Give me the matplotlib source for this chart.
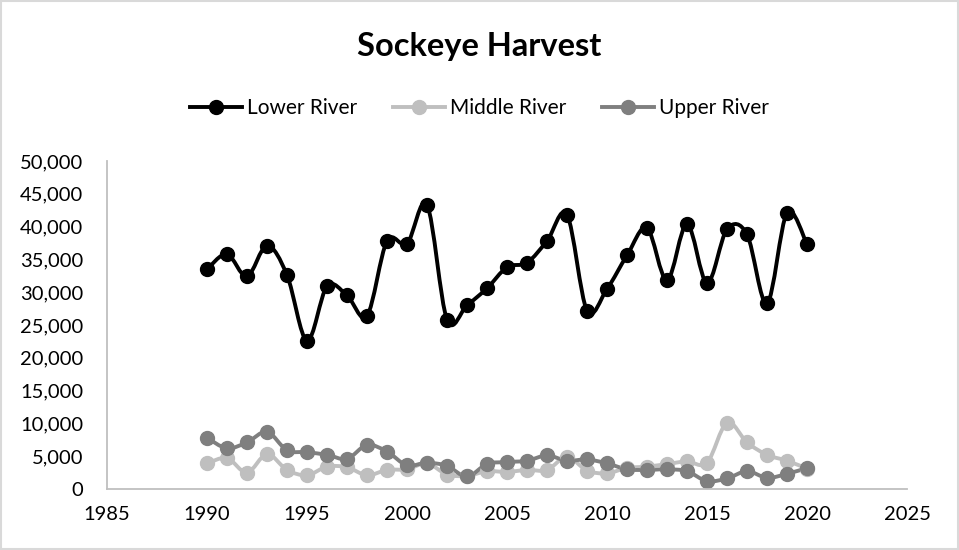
import matplotlib.pyplot as plt
from matplotlib.path import Path
from matplotlib.patches import PathPatch
from matplotlib.lines import Line2D
from matplotlib.ticker import FuncFormatter

plt.rcParams['font.family'] = ['Lato', 'DejaVu Sans']

years = list(range(1990, 2021))

lower_river = [33500, 35800, 32400, 37100, 32600, 22600, 30900, 29500, 26400, 37800,
               37400, 43300, 25800, 28000, 30600, 33800, 34500, 37800, 41800, 27200,
               30500, 35600, 39800, 31800, 40400, 31400, 39600, 38800, 28300, 42100,
               37300]
middle_river = [3900, 4700, 2500, 5300, 2900, 2100, 3400, 3300, 2100, 2900,
                3000, 3900, 2200, 2000, 2700, 2600, 2900, 2900, 4900, 2800,
                2400, 3200, 3400, 3800, 4200, 4000, 10100, 7100, 5200, 4300,
                3100]
upper_river = [7800, 6200, 7100, 8700, 5900, 5600, 5200, 4600, 6700, 5700,
               3600, 4000, 3500, 1900, 3800, 4100, 4300, 5100, 4300, 4500,
               3900, 3000, 2900, 3000, 2700, 1200, 1600, 2700, 1700, 2300,
               3200]

series = [
    ('Lower River', lower_river, '#000000'),
    ('Middle River', middle_river, '#bfbfbf'),
    ('Upper River', upper_river, '#7f7f7f'),
]


def smooth_path(xs, ys):
    """Excel-style smoothed line: cubic Bezier through each point."""
    pts = list(zip(xs, ys))
    n = len(pts)
    verts = [pts[0]]
    codes = [Path.MOVETO]
    for i in range(n - 1):
        p0 = pts[i - 1] if i > 0 else pts[i]
        p1 = pts[i]
        p2 = pts[i + 1]
        p3 = pts[i + 2] if i + 2 < n else pts[i + 1]
        c1 = (p1[0] + (p2[0] - p0[0]) / 6, p1[1] + (p2[1] - p0[1]) / 6)
        c2 = (p2[0] - (p3[0] - p1[0]) / 6, p2[1] - (p3[1] - p1[1]) / 6)
        verts += [c1, c2, p2]
        codes += [Path.CURVE4] * 3
    return Path(verts, codes)


fig = plt.figure(figsize=(9.59, 5.5), dpi=100)
ax = fig.add_axes([0.1116, 0.111, 0.8342, 0.5963])

for name, vals, color in series:
    ax.add_patch(PathPatch(smooth_path(years, vals), facecolor='none',
                           edgecolor=color, linewidth=2.8, capstyle='round',
                           joinstyle='round'))
    ax.plot(years, vals, linestyle='none', marker='o', markersize=10,
            color=color)

ax.set_xlim(1985, 2025)
ax.set_ylim(0, 50000)
ax.set_xticks(range(1985, 2026, 5))
ax.set_yticks(range(0, 50001, 5000))
ax.yaxis.set_major_formatter(FuncFormatter(lambda v, p: f'{int(v):,}'))
ax.tick_params(length=0, labelsize=14.5, colors='#000000')
ax.tick_params(axis='y', pad=17)
ax.tick_params(axis='x', pad=12)
for s in ['top', 'right']:
    ax.spines[s].set_visible(False)
for s in ['left', 'bottom']:
    ax.spines[s].set_color('#bfbfbf')
    ax.spines[s].set_linewidth(1.3)

fig.text(0.5, 0.915, 'Sockeye Harvest', ha='center', va='center',
         fontsize=23.5, fontweight='bold')

handles = [Line2D([], [], color=c, linewidth=2.8, marker='o', markersize=10)
           for _, _, c in series]
fig.legend(handles, [n for n, _, _ in series], loc='center',
           bbox_to_anchor=(0.5, 0.804), ncol=3, frameon=False, fontsize=15,
           handlelength=2.5, handletextpad=0.25, columnspacing=1.7)

fig.patches.append(plt.Rectangle((0.001, 0.001), 0.998, 0.998,
                                 transform=fig.transFigure, fill=False,
                                 edgecolor='#d9d9d9', linewidth=1.5))

fig.savefig('out.png', dpi=100)
plt.close(fig)
